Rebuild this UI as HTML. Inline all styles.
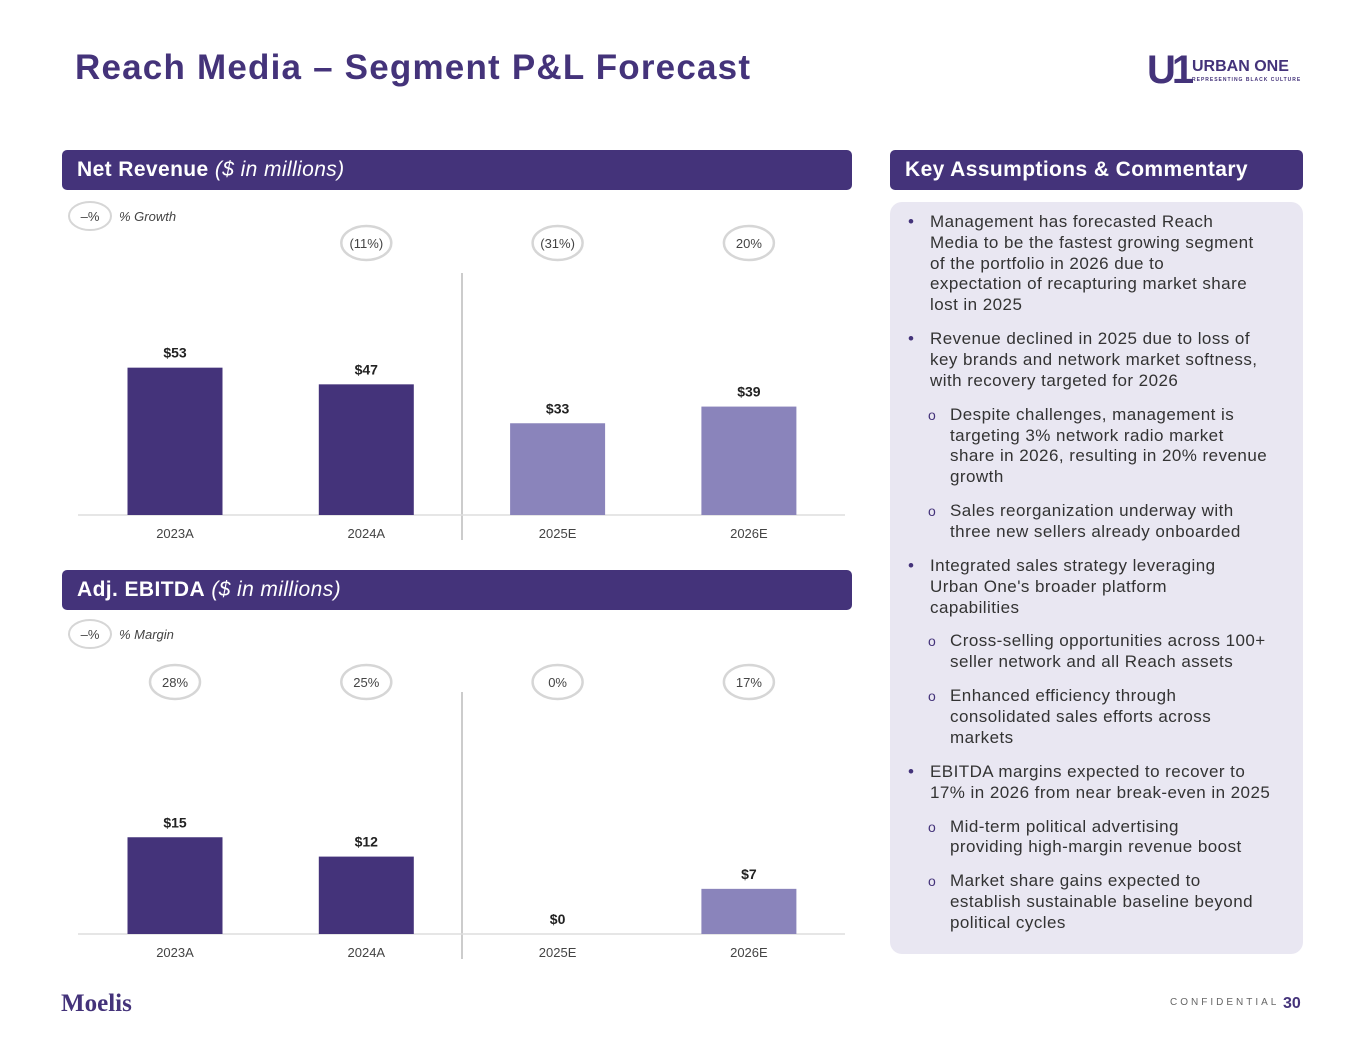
<!DOCTYPE html>
<html><head><meta charset="utf-8">
<style>
body{margin:0;width:1365px;height:1055px;background:#fff;font-family:"Liberation Sans",sans-serif;position:relative;overflow:hidden;color:#222}
.abs{position:absolute}
.hdr{position:absolute;background:#44337a;color:#fff;border-radius:5px;height:40px;line-height:40px;font-size:21px;padding-left:15px;box-sizing:border-box;letter-spacing:0.4px}
.panel{position:absolute;left:890px;top:202px;width:413px;height:752px;background:#e9e7f2;border-radius:12px}
.list{position:absolute;left:930px;top:212px;width:370px;font-size:17px;line-height:20.8px;color:#333;letter-spacing:0.45px;white-space:nowrap}
.list p{margin:0 0 13.2px 0;position:relative}
.list p.b:before{content:"•";position:absolute;left:-22px;color:#44337a}
.list p.s{margin-left:20px}
.list p.s:before{content:"o";position:absolute;left:-22px;color:#44337a;font-size:14px}
</style></head><body>
<div class="abs" style="left:75px;top:48px;font-size:35px;font-weight:bold;color:#44337a;letter-spacing:1.2px">Reach Media – Segment P&amp;L Forecast</div>
<div class="abs" style="left:1147px;top:50px;width:160px;height:40px;white-space:nowrap">
 <div style="position:absolute;left:0;top:2px;font-size:40px;font-weight:bold;color:#44337a;line-height:36px;letter-spacing:-4px">U1</div>
 <div style="position:absolute;left:45px;top:8px;font-size:16px;font-weight:bold;color:#44337a">URBAN ONE</div>
 <div style="position:absolute;left:45px;top:27px;font-size:5px;font-weight:bold;color:#44337a;letter-spacing:1px">REPRESENTING BLACK CULTURE</div>
</div>
<div class="hdr" style="left:62px;top:150px;width:790px"><b>Net Revenue</b> <i>($ in millions)</i></div>
<div class="hdr" style="left:62px;top:570px;width:790px"><b>Adj. EBITDA</b> <i>($ in millions)</i></div>
<div class="hdr" style="left:890px;top:150px;width:413px"><b>Key Assumptions &amp; Commentary</b></div>
<div class="panel"></div>
<div class="list">
<p class="b">Management has forecasted Reach<br>Media to be the fastest growing segment<br>of the portfolio in 2026 due to<br>expectation of recapturing market share<br>lost in 2025</p>
<p class="b">Revenue declined in 2025 due to loss of<br>key brands and network market softness,<br>with recovery targeted for 2026</p>
<p class="s">Despite challenges, management is<br>targeting 3% network radio market<br>share in 2026, resulting in 20% revenue<br>growth</p>
<p class="s">Sales reorganization underway with<br>three new sellers already onboarded</p>
<p class="b">Integrated sales strategy leveraging<br>Urban One's broader platform<br>capabilities</p>
<p class="s">Cross-selling opportunities across 100+<br>seller network and all Reach assets</p>
<p class="s">Enhanced efficiency through<br>consolidated sales efforts across<br>markets</p>
<p class="b">EBITDA margins expected to recover to<br>17% in 2026 from near break-even in 2025</p>
<p class="s">Mid-term political advertising<br>providing high-margin revenue boost</p>
<p class="s">Market share gains expected to<br>establish sustainable baseline beyond<br>political cycles</p>
</div>
<div class="abs" style="left:61px;top:990px;font-family:'Liberation Serif',serif;font-size:25px;font-weight:bold;color:#44337a">Moelis</div>
<div class="abs" style="left:1170px;top:997px;font-size:10px;letter-spacing:3px;color:#666">CONFIDENTIAL</div>
<div class="abs" style="left:1283px;top:995px;font-size:16px;font-weight:bold;color:#44337a">30</div>
<svg id="chart" class="abs" style="left:0;top:0" width="1365" height="1055"></svg>
<script>
const categories=["2023A","2024A","2025E","2026E"];
const revenue=[53,47,33,39];
const revenueLabels=["$53","$47","$33","$39"];
const growthLabels=["","(11%)","(31%)","20%"];
const ebitda=[15,12,0,7];
const ebitdaLabels=["$15","$12","$0","$7"];
const marginLabels=["28%","25%","0%","17%"];
const forecast=[false,false,true,true];
const svg=document.getElementById('chart');
const NS="http://www.w3.org/2000/svg";
function mk(t,a,p){const e=document.createElementNS(NS,t);for(const k in a)e.setAttribute(k,a[k]);(p||svg).appendChild(e);return e;}
function xPos(i){return 175+i*191.3;}
function drawChart(o){
  const y=v=>o.base-v*o.scale;
  const key=mk('ellipse',{cx:90,cy:o.keyY,rx:21,ry:14,fill:'#fff',stroke:'#d6d6d6','stroke-width':2});
  
  
  let t=mk('text',{x:90,y:o.keyY+5,'text-anchor':'middle','font-size':13,fill:'#444'});t.textContent='–%';
  t=mk('text',{x:119,y:o.keyY+5,'font-size':13,'font-style':'italic',fill:'#444'});t.textContent=o.keyText;
  
  
  const ln=mk('line',{x1:462,x2:462,y1:o.divTop,y2:o.base+25,stroke:'#bbb','stroke-width':1.5});
  
  
  const ax=mk('line',{x1:78,x2:845,y1:o.base,y2:o.base,stroke:'#ddd','stroke-width':1.5});
  
  
  categories.forEach((c,i)=>{
    const v=o.values[i],cx=xPos(i);
    const r=mk('rect',{x:cx-47.5,y:y(v),width:95,height:v*o.scale,fill:forecast[i]?'#8a84bb':'#44337a'});
    
    
    let l=mk('text',{x:cx,y:y(v)-10,'text-anchor':'middle','font-size':14,'font-weight':'bold',fill:'#222'});
    l.textContent=o.labels[i];
    
    
    l=mk('text',{x:cx,y:o.base+23,'text-anchor':'middle','font-size':13,fill:'#444'});
    l.textContent=c;
    
    
    if(o.pct[i]){
      const e=mk('ellipse',{cx:cx,cy:o.pctY,rx:25,ry:17,fill:'#fff',stroke:'#d6d6d6','stroke-width':2.5});
      
      
      l=mk('text',{x:cx,y:o.pctY+5,'text-anchor':'middle','font-size':13,fill:'#444'});
      l.textContent=o.pct[i];
      
      
    }
  });
}
drawChart({name:'revenue',values:revenue,labels:revenueLabels,pct:growthLabels,base:515,scale:2.78,pctY:243,keyY:216,keyText:'% Growth',divTop:273});
drawChart({name:'ebitda',values:ebitda,labels:ebitdaLabels,pct:marginLabels,base:934,scale:6.45,pctY:682,keyY:634,keyText:'% Margin',divTop:692});
</script>
</body></html>
